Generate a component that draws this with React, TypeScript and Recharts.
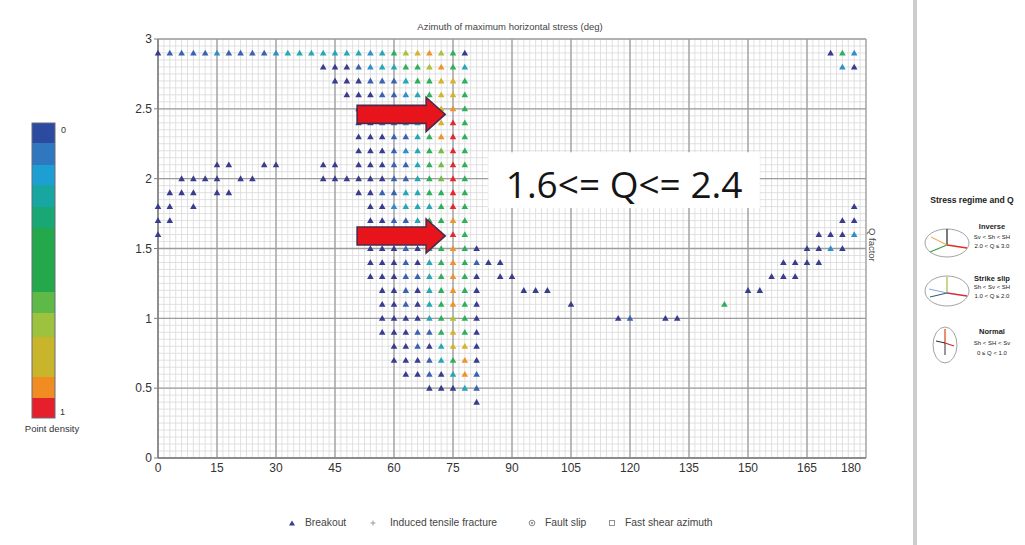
import React from 'react';
import {
  ScatterChart,
  Scatter,
  XAxis,
  YAxis,
  CartesianGrid,
  ReferenceArea,
  ReferenceDot,
} from 'recharts';

// Q factor of each row of bins (deg bins are 3 wide)
const qLevels = [2.9, 2.8, 2.7, 2.6, 2.5, 2.4, 2.3, 2.2, 2.1, 2.0, 1.9, 1.8, 1.7, 1.6, 1.5, 1.4, 1.3, 1.2, 1.1, 1.0, 0.9, 0.8, 0.7, 0.6, 0.5, 0.4];

// azimuths (deg) with a breakout point, one list per Q row
const azimuthRows: number[][] = [
  [0, 3, 6, 9, 12, 15, 18, 21, 24, 27, 30, 33, 36, 39, 42, 45, 48, 51, 54, 57, 60, 63, 66, 69, 72, 75, 78, 171, 174, 177],
  [42, 45, 48, 51, 54, 57, 60, 63, 66, 69, 72, 75, 78, 174, 177],
  [45, 48, 51, 54, 57, 60, 63, 66, 69, 72, 75, 78],
  [48, 51, 54, 57, 60, 63, 66, 69, 72, 75, 78],
  [51, 54, 57, 60, 63, 66, 69, 72, 75, 78],
  [51, 54, 57, 60, 63, 66, 69, 72, 75, 78],
  [51, 54, 57, 60, 63, 66, 69, 72, 75, 78],
  [51, 54, 57, 60, 63, 66, 69, 72, 75, 78],
  [15, 18, 27, 30, 42, 45, 51, 54, 57, 60, 63, 66, 69, 72, 75, 78],
  [6, 9, 12, 15, 21, 24, 42, 45, 48, 51, 54, 57, 60, 63, 66, 69, 72, 75, 78],
  [3, 6, 9, 15, 18, 51, 54, 57, 60, 63, 66, 69, 72, 75, 78],
  [0, 3, 9, 54, 57, 60, 63, 66, 69, 72, 75, 78, 177],
  [0, 3, 54, 57, 60, 63, 66, 69, 72, 75, 78, 174, 177],
  [0, 54, 57, 60, 63, 66, 69, 72, 75, 78, 168, 171, 174, 177],
  [54, 57, 60, 63, 66, 69, 72, 75, 78, 81, 165, 168, 171, 174],
  [54, 57, 60, 63, 66, 69, 72, 75, 78, 81, 84, 87, 159, 162, 165, 168],
  [54, 57, 60, 63, 66, 69, 72, 75, 78, 81, 87, 90, 156, 159, 162],
  [57, 60, 63, 66, 69, 72, 75, 78, 81, 93, 96, 99, 150, 153],
  [57, 60, 63, 66, 69, 72, 75, 78, 81, 105, 144],
  [57, 60, 63, 66, 69, 72, 75, 78, 81, 117, 120, 129, 132],
  [57, 60, 63, 66, 69, 72, 75, 78, 81],
  [60, 63, 66, 69, 72, 75, 78, 81],
  [60, 63, 66, 69, 72, 75, 78, 81],
  [63, 66, 69, 72, 75, 78, 81],
  [69, 72, 75, 78, 81],
  [81],
];

// point density in tenths (0 = blue, 10 = red), same layout as azimuthRows
const densityRows: number[][] = [
  [0, 1, 1, 1, 1, 2, 1, 1, 1, 1, 2, 3, 3, 3, 3, 3, 3, 3, 2, 3, 5, 7, 8, 9, 7, 5, 0, 0, 5, 2],
  [0, 0, 0, 1, 2, 3, 3, 5, 5, 7, 9, 5, 3, 2, 0],
  [0, 0, 0, 1, 1, 1, 3, 5, 5, 8, 8, 5],
  [0, 0, 0, 1, 1, 2, 3, 5, 8, 8, 5],
  [0, 0, 1, 1, 2, 3, 5, 8, 9, 5],
  [0, 0, 1, 1, 2, 3, 5, 8, 10, 5],
  [0, 0, 0, 1, 1, 3, 5, 9, 10, 5],
  [0, 0, 0, 1, 2, 3, 5, 6, 10, 5],
  [0, 0, 0, 0, 0, 0, 0, 0, 0, 1, 1, 3, 5, 6, 10, 5],
  [0, 0, 0, 0, 0, 0, 0, 0, 0, 0, 0, 0, 1, 1, 3, 5, 6, 10, 5],
  [0, 0, 0, 0, 0, 0, 0, 1, 1, 3, 3, 5, 5, 10, 5],
  [0, 0, 0, 0, 0, 2, 3, 3, 3, 5, 10, 5, 0],
  [0, 0, 0, 0, 1, 1, 3, 5, 5, 9, 5, 0, 0],
  [0, 0, 0, 1, 1, 2, 5, 5, 10, 5, 0, 0, 0, 2],
  [0, 0, 0, 1, 0, 3, 5, 9, 5, 0, 0, 0, 2, 0],
  [0, 0, 0, 1, 0, 3, 5, 9, 5, 1, 0, 0, 0, 0, 0, 0],
  [0, 0, 0, 1, 1, 3, 5, 9, 5, 0, 0, 0, 0, 0, 0],
  [0, 0, 1, 0, 3, 5, 9, 5, 0, 0, 0, 0, 0, 0],
  [0, 0, 1, 0, 3, 5, 9, 5, 0, 0, 5],
  [0, 0, 0, 0, 3, 5, 7, 5, 0, 0, 1, 0, 0],
  [0, 0, 0, 1, 1, 5, 8, 5, 0],
  [0, 0, 1, 0, 3, 8, 8, 0],
  [0, 0, 0, 1, 3, 5, 9, 0],
  [0, 0, 1, 0, 3, 9, 1],
  [0, 0, 0, 3, 1],
  [0],
];

const xTicks = [0, 15, 30, 45, 60, 75, 90, 105, 120, 135, 150, 165, 180];
const yTicks = [0, 0.5, 1, 1.5, 2, 2.5, 3];

// annotation: arrow tips and the Q range box
const arrowTips = [
  { az: 73, q: 2.46 },
  { az: 73, q: 1.59 },
];
const rangeBox = { x1: 84, x2: 153, y1: 1.79, y2: 2.19 };
const rangeText = '1.6<= Q<= 2.4';

const legendItems = ['Breakout', 'Induced tensile fracture', 'Fault slip', 'Fast shear azimuth'];

const densityPalette = [
  '#383b8e', '#3b62b0', '#2e8fc9', '#25a7b5', '#22a98a', '#2fae5c',
  '#72bd45', '#a9c23b', '#d6b32e', '#f0922a', '#e6262c',
];

// colorbar bands (px from top of bar) and colors
const barBands = [0, 20, 42, 62, 84, 105, 169, 190, 214, 254, 275, 295];
const barColors = [
  '#2c4aa0', '#2f78c0', '#1c9fd2', '#17a7a0', '#19a874', '#23a84c',
  '#5fb947', '#9cc23e', '#c9b52c', '#f08c22', '#e61f2c',
];

// fine grid: every 1.5 deg and every 0.05 of Q
const minorX = Array.from({ length: 121 }, (_, i) => i * 1.5);
const minorY = Array.from({ length: 61 }, (_, i) => Math.round(i * 5) / 100);

const points = qLevels.flatMap((q, i) =>
  azimuthRows[i].map((az, j) => ({ az, q, d: densityRows[i][j] })),
);

const FONT = '"Liberation Sans", Arial, sans-serif';

const Breakout = (props: any) => {
  const { cx, cy, payload } = props;
  if (cx == null || cy == null) return null;
  const c = densityPalette[payload.d] ?? densityPalette[0];
  return <path d={`M${cx},${cy - 3.3}L${cx + 3.3},${cy + 2.5}L${cx - 3.3},${cy + 2.5}Z`} fill={c} />;
};

const Arrow = (props: any) => {
  const { cx, cy } = props;
  if (cx == null || cy == null) return null;
  const d = `M${cx},${cy} L${cx - 19},${cy - 17} L${cx - 19},${cy - 9} L${cx - 88},${cy - 9} L${cx - 88},${cy + 9} L${cx - 19},${cy + 9} L${cx - 19},${cy + 17} Z`;
  return <path d={d} fill="#e8141c" stroke="#4b2b48" strokeWidth={1.6} strokeLinejoin="miter" />;
};

const XTick = (props: any) => {
  const { x, y, payload } = props;
  const last = payload.value === 180;
  return (
    <text x={last ? x - 5 : x} y={y} dy="0.71em" textAnchor={last ? 'end' : 'middle'} fontSize={12} fill="#333" fontFamily={FONT}>
      {payload.value}
    </text>
  );
};

function ColorBar() {
  return (
    <svg width={100} height={440} style={{ position: 'absolute', left: 0, top: 0 }}>
      {barColors.map((c, i) => (
        <rect key={c} x={32} y={123 + barBands[i]} width={23} height={barBands[i + 1] - barBands[i]} fill={c} />
      ))}
      <rect x={32} y={123} width={23} height={295} fill="none" stroke="#6b6b7a" strokeWidth={1} />
      <text x={61} y={133} fontSize={9} fill="#333" fontFamily={FONT}>0</text>
      <text x={60} y={415} fontSize={9} fill="#333" fontFamily={FONT}>1</text>
      <text x={52} y={432} fontSize={9.5} fill="#333" fontFamily={FONT} textAnchor="middle">Point density</text>
    </svg>
  );
}

function StressPanel() {
  const t = { fontFamily: FONT, fill: '#222', textAnchor: 'middle' as const };
  return (
    <svg width={107} height={190} style={{ position: 'absolute', left: 918, top: 190 }}>
      <text x={54} y={13} fontSize={8.6} fontWeight="bold" {...t}>Stress regime and Q</text>

      <ellipse cx={29} cy={53} rx={22} ry={14} fill="none" stroke="#8a8a8a" strokeWidth={0.8} />
      <line x1={29} y1={55} x2={29} y2={39} stroke="#222" strokeWidth={1.2} />
      <line x1={29} y1={55} x2={49} y2={58} stroke="#e03020" strokeWidth={1.4} />
      <line x1={29} y1={55} x2={12} y2={62} stroke="#3aa040" strokeWidth={1.2} />
      <line x1={29} y1={55} x2={13} y2={47} stroke="#e8a030" strokeWidth={1} />
      <text x={74} y={39} fontSize={7.5} fontWeight="bold" {...t}>Inverse</text>
      <text x={74} y={49} fontSize={6} {...t}>Sv &lt; Sh &lt; SH</text>
      <text x={74} y={58} fontSize={6} {...t}>2.0 &lt; Q ≤ 3.0</text>

      <ellipse cx={29} cy={101} rx={22} ry={15} fill="none" stroke="#8a8a8a" strokeWidth={0.8} />
      <line x1={29} y1={103} x2={29} y2={87} stroke="#9cc040" strokeWidth={1.2} />
      <line x1={29} y1={103} x2={49} y2={106} stroke="#d03040" strokeWidth={1.4} />
      <line x1={29} y1={103} x2={12} y2={107} stroke="#306080" strokeWidth={1.2} />
      <line x1={29} y1={103} x2={11} y2={99} stroke="#6a8ad0" strokeWidth={0.8} />
      <text x={74} y={91} fontSize={7.5} fontWeight="bold" {...t}>Strike slip</text>
      <text x={74} y={99} fontSize={6} {...t}>Sh &lt; Sv &lt; SH</text>
      <text x={74} y={108} fontSize={6} {...t}>1.0 &lt; Q ≤ 2.0</text>

      <ellipse cx={27} cy={155} rx={12} ry={18} fill="none" stroke="#8a8a8a" strokeWidth={0.8} />
      <line x1={27} y1={153} x2={27} y2={139} stroke="#e06030" strokeWidth={1.4} />
      <line x1={27} y1={153} x2={27} y2={165} stroke="#333" strokeWidth={1} />
      <line x1={27} y1={153} x2={36} y2={156} stroke="#d02828" strokeWidth={1.2} />
      <line x1={27} y1={153} x2={18} y2={151} stroke="#2a2a2a" strokeWidth={1} />
      <text x={74} y={144} fontSize={7.5} fontWeight="bold" {...t}>Normal</text>
      <text x={74} y={155} fontSize={6} {...t}>Sh &lt; SH &lt; Sv</text>
      <text x={74} y={165} fontSize={6} {...t}>0 ≤ Q &lt; 1.0</text>
    </svg>
  );
}

function BottomLegend() {
  const marks = [
    <path key="a" d="M4,1.5L7,6.5L1,6.5Z" fill="#3a3d8e" />,
    <path key="b" d="M4,1.5V6.5M1.5,4H6.5" stroke="#9a9a9a" strokeWidth={1} />,
    <g key="c"><circle cx={4} cy={4} r={2.8} fill="none" stroke="#777" strokeWidth={0.9} /><circle cx={4} cy={4} r={1} fill="#777" /></g>,
    <rect key="d" x={1.5} y={1.5} width={5} height={5} fill="none" stroke="#888" strokeWidth={0.9} />,
  ];
  const lefts = [288, 369, 528, 608];
  return (
    <>
      {legendItems.map((name, i) => (
        <div
          key={name}
          style={{ position: 'absolute', left: lefts[i], top: 517, display: 'flex', alignItems: 'center', fontFamily: FONT, fontSize: 10.3, color: '#444', whiteSpace: 'nowrap' }}
        >
          <svg width={8} height={8}>{marks[i]}</svg>
          <span style={{ marginLeft: i === 1 ? 13 : 9 }}>{name}</span>
        </div>
      ))}
    </>
  );
}

export default function App() {
  return (
    <div style={{ position: 'absolute', left: 0, top: 0, width: 1025, height: 545, background: '#fff', overflow: 'hidden', fontFamily: FONT }}>
      <ColorBar />

      <div style={{ position: 'absolute', left: 0, top: 0, width: 1025, height: 545 }}>
        <ScatterChart width={1025} height={545} margin={{ top: 39, right: 159, bottom: 57, left: 118 }}>
          <CartesianGrid verticalValues={minorX} horizontalValues={minorY} stroke="#d9d9d9" strokeWidth={0.8} />
          <CartesianGrid stroke="#9d9d9d" strokeWidth={1.3} />
          <XAxis
            type="number"
            dataKey="az"
            domain={[0, 180]}
            ticks={xTicks}
            interval={0}
            height={30}
            tickLine={false}
            tickSize={4}
            tickMargin={1}
            axisLine={{ stroke: '#808080', strokeWidth: 1.5 }}
            tick={XTick}
          />
          <YAxis
            type="number"
            dataKey="q"
            domain={[0, 3]}
            ticks={yTicks}
            interval={0}
            width={40}
            tickSize={4}
            tickMargin={2}
            tickLine={{ stroke: '#808080' }}
            axisLine={{ stroke: '#808080', strokeWidth: 1.5 }}
            tick={{ fontSize: 12, fill: '#333', fontFamily: FONT }}
          />
          <Scatter data={points} shape={Breakout} isAnimationActive={false} />
          <ReferenceArea
            x1={rangeBox.x1}
            x2={rangeBox.x2}
            y1={rangeBox.y1}
            y2={rangeBox.y2}
            fill="#ffffff"
            fillOpacity={1}
            stroke="none"
            zIndex={1000}
            label={{ value: rangeText, position: 'center', dy: 5, fontSize: 37, fill: '#151515', fontFamily: '"Open Sans", sans-serif' }}
          />
          {arrowTips.map((a) => (
            <ReferenceDot key={a.q} x={a.az} y={a.q} shape={Arrow} zIndex={1100} />
          ))}
        </ScatterChart>
      </div>

      <div style={{ position: 'absolute', left: 310, width: 400, top: 21, textAlign: 'center', fontSize: 9.5, color: '#444' }}>
        Azimuth of maximum horizontal stress (deg)
      </div>
      <div style={{ position: 'absolute', left: 867, top: 228, writingMode: 'vertical-rl', fontSize: 9.5, color: '#444' }}>
        Q factor
      </div>

      <BottomLegend />

      <div style={{ position: 'absolute', left: 913, top: 0, width: 4, height: 545, background: '#cdcdcd' }} />
      <StressPanel />
    </div>
  );
}
